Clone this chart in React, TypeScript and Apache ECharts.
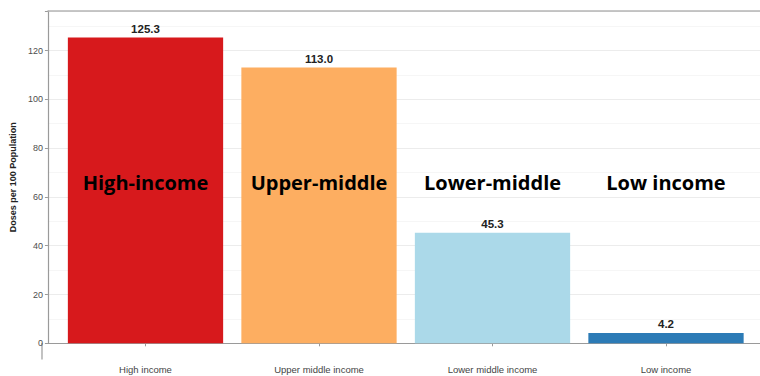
import React, { useEffect, useRef } from "react";
import * as echarts from "echarts";

const categories = ["High income", "Upper middle income", "Lower middle income", "Low income"];
const doses = [125.3, 113.0, 45.3, 4.2];
const barColors = ["#d7191c", "#fdae61", "#abd9e9", "#2c7bb6"];
const bigLabels = ["High-income", "Upper-middle", "Lower-middle", "Low income"];
const bigLabelLevel = [66, 66, 66, 66];
const yTicks = [0, 20, 40, 60, 80, 100, 120];

const Y_MAX = 136.2;

export default function App() {
  const ref = useRef<HTMLDivElement>(null);
  useEffect(() => {
    document.body.style.margin = "0";
    const chart = echarts.init(ref.current!, null, { renderer: "svg" });
    const axisLabelFont = { color: "#4d4d4d", fontSize: 9, fontFamily: "Liberation Sans" };
    chart.setOption({
      animation: false,
      backgroundColor: "#ffffff",
      grid: [
        { left: 42, right: -10, top: 11, bottom: 32.7 },
        { left: 58.75, right: 7.25, top: 11, bottom: 32.7 },
      ],
      xAxis: [
        {
          gridIndex: 0, type: "value", min: 0, max: 1, position: "bottom", offset: 15.7,
          axisLine: { show: true, lineStyle: { color: "#9a9a9a", width: 1.2 } },
          axisTick: { show: false }, axisLabel: { show: false }, splitLine: { show: false },
        },
        {
          gridIndex: 0, type: "value", min: 0, max: 1, position: "top",
          axisLine: { show: true, lineStyle: { color: "#b5b5b5", width: 1.5 } },
          axisTick: { show: false }, axisLabel: { show: false }, splitLine: { show: false },
        },
        {
          gridIndex: 1, type: "category", data: categories, position: "bottom", offset: 15.7,
          axisLine: { show: false },
          axisTick: { show: true, alignWithLabel: true, length: 3, lineStyle: { color: "#9a9a9a" } },
          axisLabel: { ...axisLabelFont, fontSize: 9.5, margin: 5, color: "#444" },
          splitLine: { show: false },
        },
      ],
      yAxis: [
        {
          gridIndex: 0, type: "value", min: 0, max: Y_MAX, interval: 20,
          axisLine: { show: true, lineStyle: { color: "#9a9a9a", width: 1.2 } },
          axisTick: { show: true, length: 3, lineStyle: { color: "#9a9a9a" } },
          axisLabel: {
            ...axisLabelFont, margin: 5,
            formatter: (v: number) => (yTicks.includes(v) ? String(v) : ""),
          },
          splitLine: { show: true, lineStyle: { color: "#ececec", width: 1 } },
          minorTick: { show: false, splitNumber: 2 },
          minorSplitLine: { show: true, lineStyle: { color: "#f4f4f4", width: 0.8 } },
          name: "Doses per 100 Population",
          nameLocation: "middle",
          nameGap: 25,
          nameRotate: 90,
          nameTextStyle: { color: "#222", fontSize: 9, fontWeight: "bold", fontFamily: "Liberation Sans" },
        },
        {
          gridIndex: 1, type: "value", min: 0, max: Y_MAX, show: false,
          splitLine: { show: false },
        },
      ],
      graphic: [
        { type: "line", shape: { x1: 42, y1: 343, x2: 42, y2: 359.5 }, style: { stroke: "#9a9a9a", lineWidth: 1.2 } },
      ],
      series: [
        {
          type: "bar",
          xAxisIndex: 2,
          yAxisIndex: 1,
          barCategoryGap: "10.5%",
          data: doses.map((v, i) => ({ value: v, itemStyle: { color: barColors[i] } })),
          label: {
            show: true, position: "top", distance: 3,
            color: "#222", fontSize: 11.5, fontWeight: "bold", fontFamily: "Liberation Sans",
            formatter: (p: any) => Number(p.value).toFixed(1),
          },
        },
        {
          type: "scatter",
          xAxisIndex: 2,
          yAxisIndex: 1,
          symbolSize: 0,
          silent: true,
          data: bigLabelLevel.map((v, i) => [categories[i], v]),
          label: {
            show: true, position: "inside",
            color: "#000", textBorderWidth: 0, opacity: 1,
            fontSize: 20, fontWeight: "bold", fontFamily: "Open Sans",
            formatter: (p: any) => bigLabels[p.dataIndex],
          },
        },
      ],
    });
    return () => chart.dispose();
  }, []);
  return <div ref={ref} style={{ width: 760, height: 376, position: "fixed", left: 0, top: 0 }} />;
}
